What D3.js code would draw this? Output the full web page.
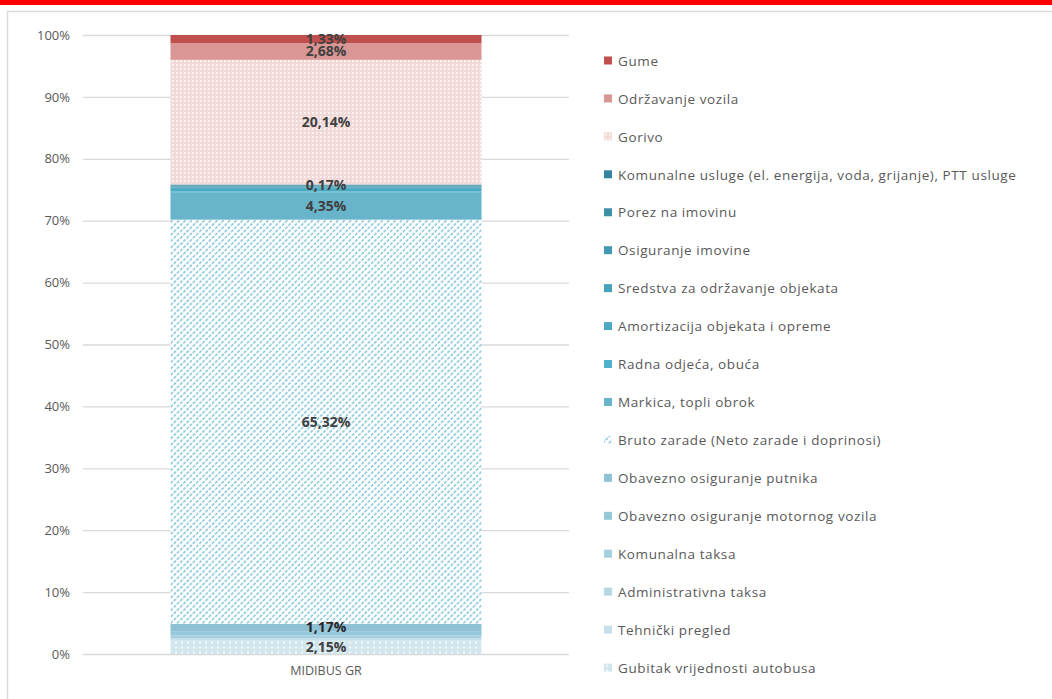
<!DOCTYPE html>
<html>
<head>
<meta charset="utf-8">
<script src="https://cdn.jsdelivr.net/npm/d3@7"></script>
<style>
  body { margin: 0; background: #fff; }
  svg { display: block; font-family: "Open Sans", sans-serif; }
</style>
</head>
<body>
<div id="chart"></div>
<script>
// podaci (od dna prema vrhu)
const categories = ['MIDIBUS GR'];
const seriesNames = [
  'Gubitak vrijednosti autobusa',
  'Tehnički pregled',
  'Administrativna taksa',
  'Komunalna taksa',
  'Obavezno osiguranje motornog vozila',
  'Obavezno osiguranje putnika',
  'Bruto zarade (Neto zarade i doprinosi)',
  'Markica, topli obrok',
  'Radna odjeća, obuća',
  'Amortizacija objekata i opreme',
  'Sredstva za održavanje objekata',
  'Osiguranje imovine',
  'Porez na imovinu',
  'Komunalne usluge (el. energija, voda, grijanje), PTT usluge',
  'Gorivo',
  'Održavanje vozila',
  'Gume'
];
const seriesValues = [2.15, 0.30, 0.12, 0.45, 0.66, 1.17, 65.32, 4.35, 0.20, 0.55, 0.12, 0.14, 0.15, 0.17, 20.14, 2.68, 1.33];
const labelShown = [true, false, false, false, false, true, true, true, false, false, false, false, false, true, true, true, true];
const yTicks = [0, 10, 20, 30, 40, 50, 60, 70, 80, 90, 100];

// boje
const fills = [
  'url(#pDots)', '#c5e0ea', '#b6d8e4', '#a6d0df', '#95c8da', '#8fc1d4',
  'url(#pHatch)', '#68b4ca', '#4fb1c9', '#4aaac3', '#47a3bb', '#4399b1', '#3c90a8', '#3486a0',
  'url(#pGrid)', '#d99694', '#c0504d'
];

const width = 1052, height = 699;
const margin = { top: 35, left: 83, bottom: 45 };
const plotW = 486;
const innerH = 654 - margin.top;

const svg = d3.select('#chart').append('svg')
  .attr('width', width).attr('height', height);

// uzorci
const defs = svg.append('defs');
const pH = defs.append('pattern').attr('id', 'pHatch')
  .attr('patternUnits', 'userSpaceOnUse').attr('width', 4.5).attr('height', 4.5)
  .attr('patternTransform', 'rotate(45)');
pH.append('rect').attr('width', 4.5).attr('height', 4.5).attr('fill', '#fff');
pH.append('line').attr('x1', 1).attr('x2', 1).attr('y1', 0).attr('y2', 4.5)
  .attr('stroke', '#6dbcd2').attr('stroke-width', 1.3).attr('stroke-dasharray', '3.2,1.3');

const pG = defs.append('pattern').attr('id', 'pGrid')
  .attr('patternUnits', 'userSpaceOnUse').attr('width', 4).attr('height', 4);
pG.append('rect').attr('width', 4).attr('height', 4).attr('fill', '#f1d9d8');
pG.append('rect').attr('x', 1).attr('y', 1).attr('width', 1.5).attr('height', 2).attr('fill', '#fdf7f7');

const pD = defs.append('pattern').attr('id', 'pDots')
  .attr('patternUnits', 'userSpaceOnUse').attr('width', 6).attr('height', 5);
pD.append('rect').attr('width', 6).attr('height', 5).attr('fill', '#d2e6ee');
pD.append('rect').attr('x', 2).attr('y', 1.5).attr('width', 2).attr('height', 2).attr('fill', '#f4f9fb');

// crveni pojas i okvir
svg.append('rect').attr('x', 0).attr('y', 0).attr('width', width).attr('height', 5).attr('fill', '#ff0000');
svg.append('rect').attr('x', 7.5).attr('y', 11.5).attr('width', width + 20).attr('height', height + 20)
  .attr('fill', 'none').attr('stroke', '#d9d9d9').attr('stroke-width', 1.5);

const g = svg.append('g').attr('transform', `translate(${margin.left},${margin.top})`);

const x = d3.scaleBand().domain(categories).range([0, plotW]).paddingInner(0.36).paddingOuter(0.18);
const y = d3.scaleLinear().domain([0, 100]).range([innerH, 0]);

// mreža
g.append('g')
  .call(d3.axisLeft(y).tickValues(yTicks).tickSize(-plotW).tickFormat(d => d + '%').tickPadding(13))
  .call(a => a.select('.domain').remove())
  .call(a => a.selectAll('line').attr('stroke', '#d9d9d9').attr('stroke-width', 1.3))
  .call(a => a.selectAll('text').attr('fill', '#595959').style('font-size', '13px').attr('font-family', '"Open Sans", sans-serif'));

// stekovanje
const row = { cat: categories[0] };
seriesNames.forEach((n, i) => { row[n] = seriesValues[i]; });
const stacked = d3.stack().keys(seriesNames)([row]);

const layers = g.selectAll('g.layer').data(stacked).join('g').attr('class', 'layer')
  .attr('fill', (d, i) => fills[i]);
layers.selectAll('rect').data(d => d).join('rect')
  .attr('x', d => x(d.data.cat))
  .attr('width', x.bandwidth())
  .attr('y', d => y(d[1]))
  .attr('height', d => y(d[0]) - y(d[1]));

// oznake vrijednosti
const fmt = v => v.toFixed(2).replace('.', ',') + '%';
g.selectAll('text.val').data(stacked.filter((d, i) => labelShown[i])).join('text')
  .attr('class', 'val')
  .attr('x', d => x(d[0].data.cat) + x.bandwidth() / 2)
  .attr('y', d => y((d[0][0] + d[0][1]) / 2))
  .attr('dy', '0.35em')
  .attr('text-anchor', 'middle')
  .attr('fill', d => d.key === 'Obavezno osiguranje putnika' ? '#262626' : '#404040')
  .style('font-size', '14px').style('font-weight', 'bold')
  .text(d => fmt(row[d.key]));

// x os
g.append('g').attr('transform', `translate(0,${innerH})`)
  .call(d3.axisBottom(x).tickSize(0).tickPadding(12))
  .call(a => a.select('.domain').remove())
  .call(a => a.selectAll('text').attr('fill', '#595959').style('font-size', '12.5px').attr('font-family', '"Open Sans", sans-serif'));

// legenda
const legendNames = seriesNames.slice().reverse();
const legendFills = fills.slice().reverse();
const legend = svg.append('g').attr('transform', 'translate(604,61)');
const item = legend.selectAll('g').data(legendNames).join('g')
  .attr('transform', (d, i) => `translate(0,${i * 37.94})`);
item.append('rect').attr('x', 0).attr('y', -4.5).attr('width', 8).attr('height', 8)
  .attr('fill', (d, i) => legendFills[i]);
item.append('text').attr('x', 14).attr('dy', '0.35em')
  .attr('fill', '#595959').style('font-size', '13.5px').style('letter-spacing', '0.6px')
  .text(d => d);
</script>
</body>
</html>
